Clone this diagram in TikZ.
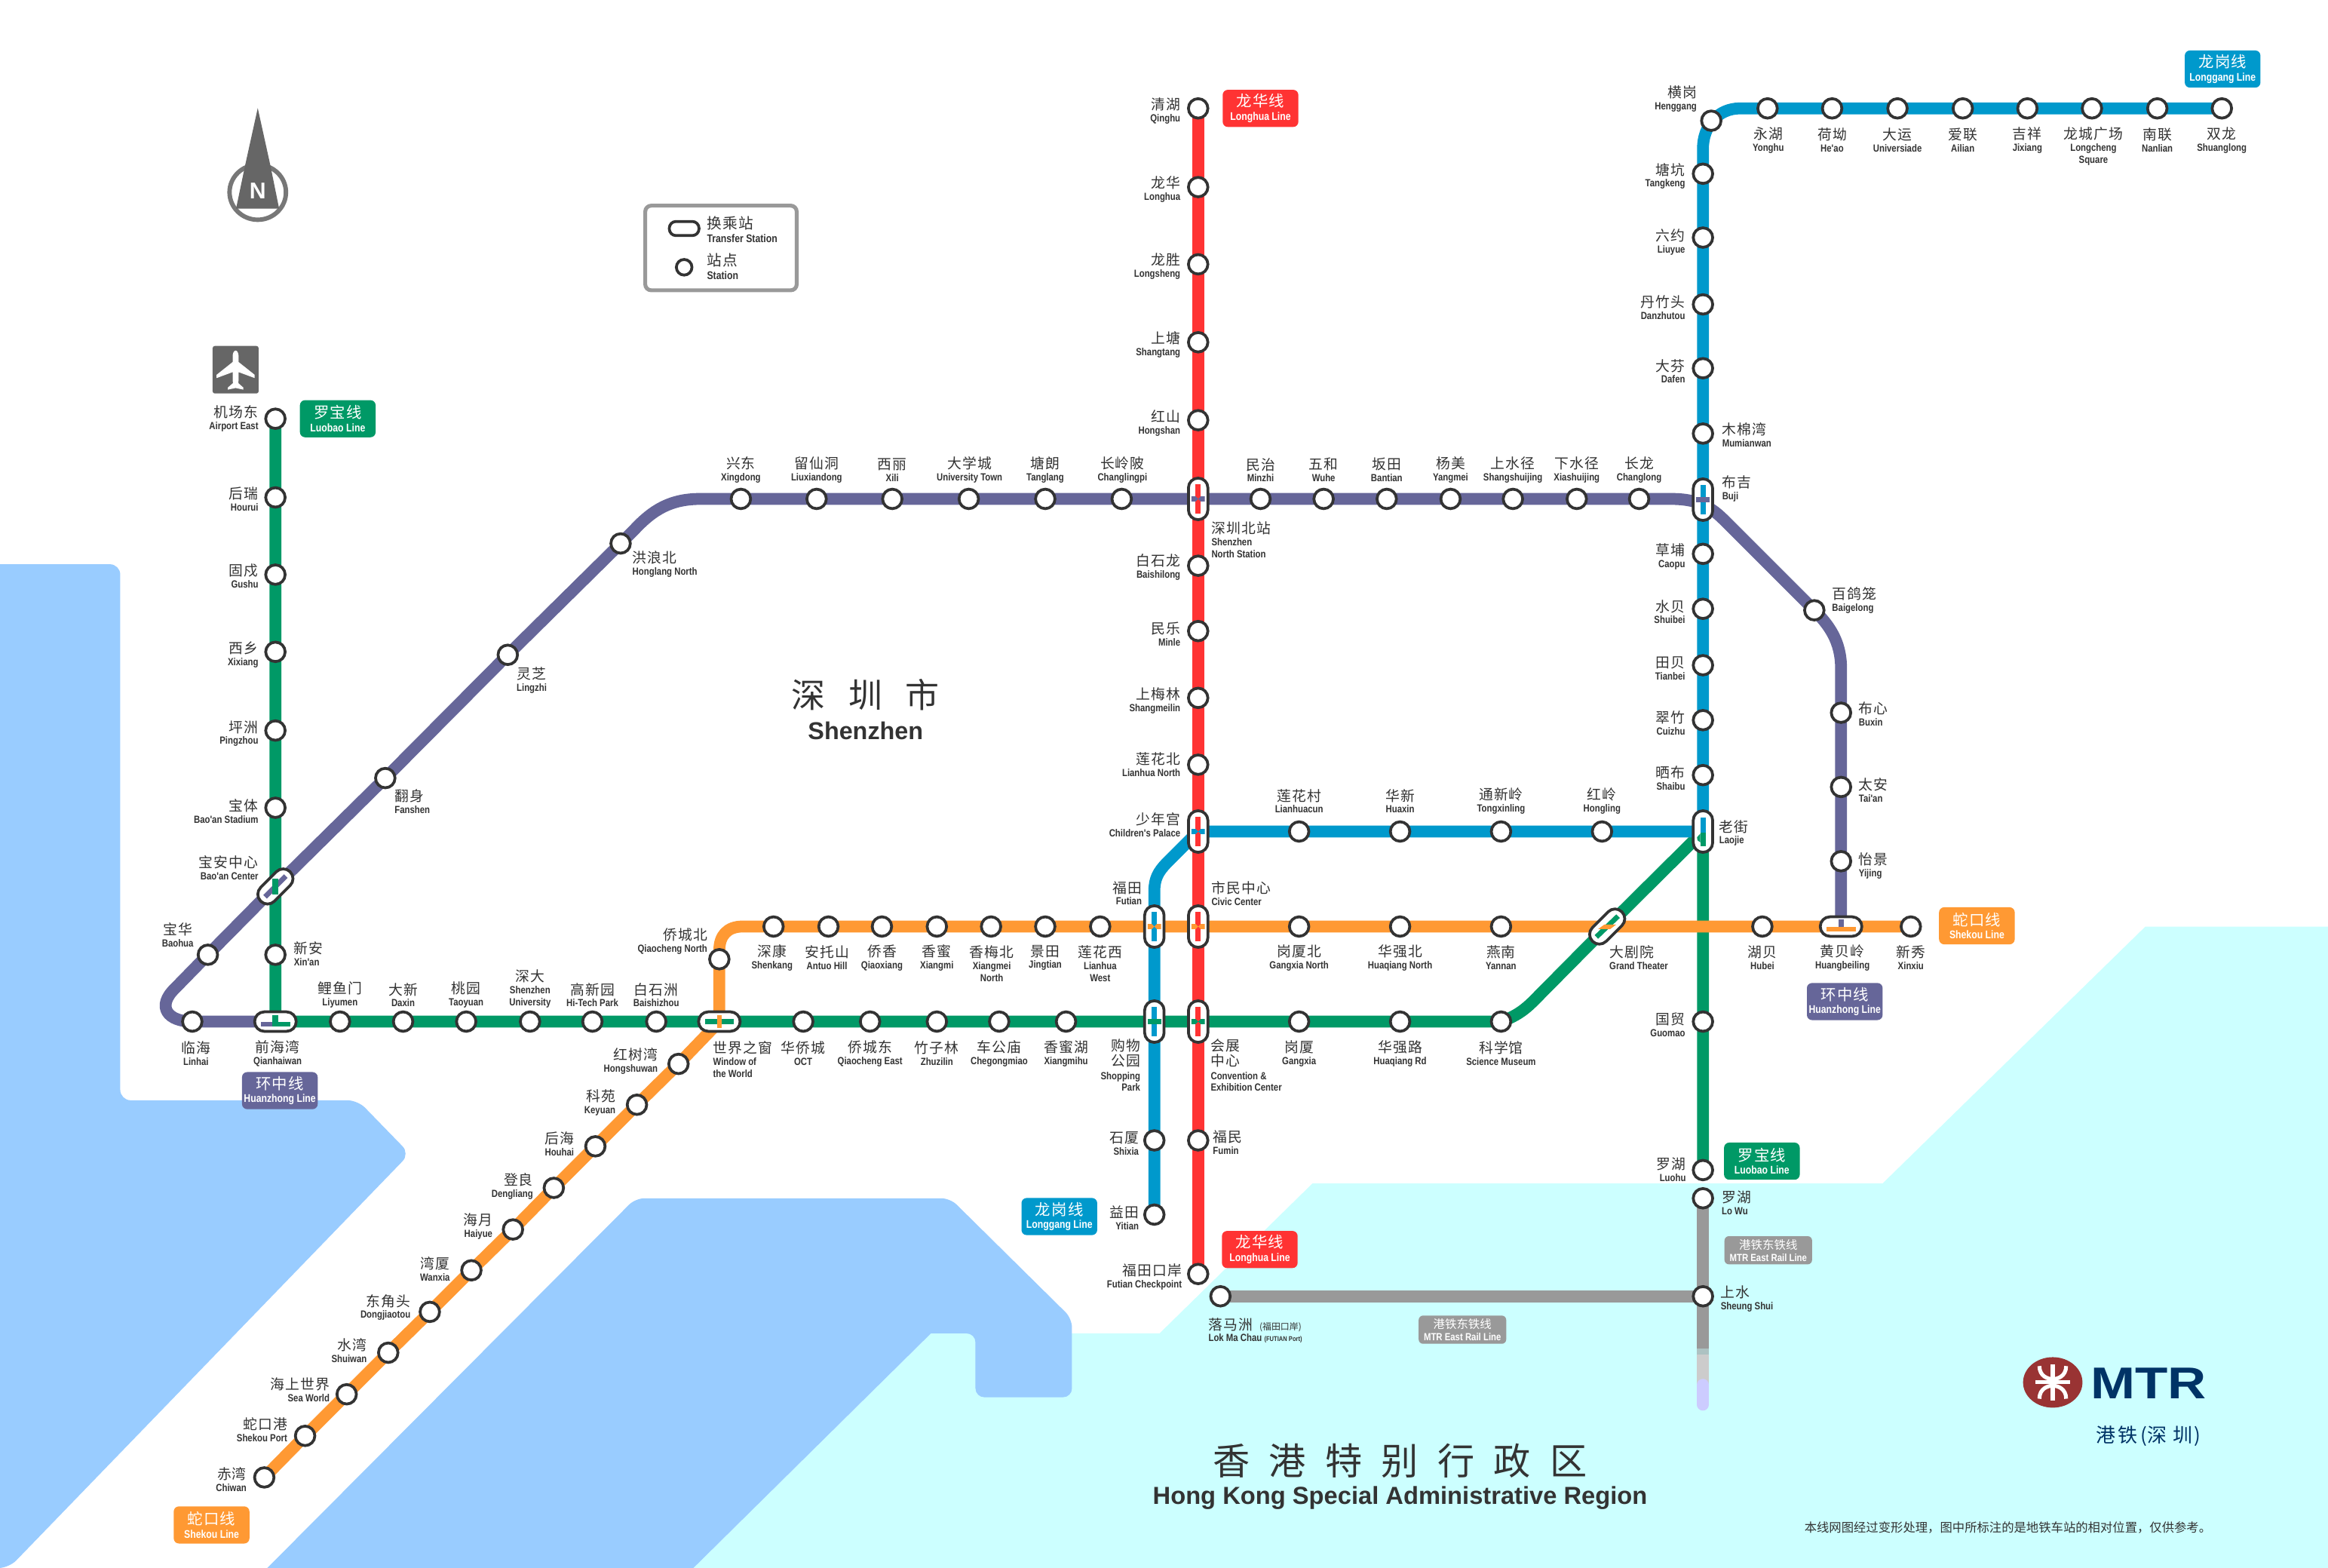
\documentclass[tikz,border=0pt]{standalone}
\usepackage{fontspec}
\usetikzlibrary{calc,shapes.geometric}
\newfontfamily\cnfam[LetterSpace=6]{Noto Sans CJK SC}
\newfontfamily\cnplain{Noto Sans CJK SC}
\newfontfamily\enfam[FakeStretch=0.83]{Liberation Sans}
\newfontfamily\arfam{Liberation Sans}
\newfontfamily\mtrfam[FakeStretch=1.2]{Liberation Sans}
\definecolor{ink}{HTML}{333333}
\definecolor{lgreen}{HTML}{009966}
\definecolor{lred}{HTML}{FF3333}
\definecolor{lblue}{HTML}{0099CC}
\definecolor{lpurple}{HTML}{666699}
\definecolor{lorange}{HTML}{FF9933}
\definecolor{lgray}{HTML}{999999}
\definecolor{water}{HTML}{99CCFF}
\definecolor{hkland}{HTML}{CCFFFF}
\definecolor{mtrred}{HTML}{993333}
\definecolor{mtrblue}{HTML}{003366}
\definecolor{tailc}{HTML}{CCCCFF}
\definecolor{iconc}{HTML}{666666}
\definecolor{ringc}{HTML}{777777}
\newdimen\uu \uu=0.0196875cm
\pgfdeclarelayer{land}\pgfdeclarelayer{lines}\pgfdeclarelayer{top}
\pgfsetlayers{land,lines,main,top}
\newcommand\cnf{\cnfam\mdseries\fontsize{5.35}{5.4}\selectfont}
\newcommand\enf{\enfam\bfseries\fontsize{3.9}{4.5}\selectfont\lineskiplimit=-6pt\lineskip=0pt}
\newcommand\tagf{\enfam\bfseries\fontsize{4.2}{5}\selectfont\lineskiplimit=-6pt\lineskip=0pt}
\newcommand\stagf{\enfam\bfseries\fontsize{3.9}{4.6}\selectfont\lineskiplimit=-6pt\lineskip=0pt}
\newcounter{lc}
\tikzset{
  ln/.style={line width=8\uu,line join=round},
  stn/.style={circle,draw=ink,fill=white,line width=1.9\uu,minimum size=13.1\uu,inner sep=0pt},
  xfer/.style={rectangle,rounded corners=6.5\uu,draw=ink,fill=white,line width=1.9\uu,minimum width=13.1\uu,minimum height=28\uu,inner sep=0pt},
  lab/.style={inner sep=0pt,outer sep=0pt,text=ink,font=\enf},
  tagbox/.style={rectangle,rounded corners=3.5\uu,fill=#1,text=white,minimum width=51\uu,minimum height=25\uu,inner sep=0pt,align=center,font=\tagf},
  smalltag/.style={rectangle,rounded corners=3\uu,fill=lgray,text=white,minimum width=59\uu,minimum height=19\uu,inner sep=0pt,align=center,font=\stagf},
}
\newcommand\st[3]{\node[stn] (#1) at (#2,#3) {};}
\newcommand\labE[4]{\stepcounter{lc}\node[lab,anchor=east,align=right] (L\thelc) at (#1,#2) {{\cnf #3}\\#4};}
\newcommand\labW[4]{\stepcounter{lc}\node[lab,anchor=west,align=left] (L\thelc) at (#1,#2) {{\cnf #3}\\#4};}
\newcommand\labC[4]{\stepcounter{lc}\node[lab,anchor=center,align=center] (L\thelc) at (#1,#2) {{\cnf #3}\\#4};}
\newcommand\tagn[5]{\stepcounter{lc}\node[tagbox=#1] (T\thelc) at (#2,#3) {{\cnfam\mdseries\fontsize{5.8}{6}\selectfont #4}\\#5};}
\newcommand\stag[4]{\stepcounter{lc}\node[smalltag] (T\thelc) at (#1,#2) {{\cnplain\mdseries\fontsize{4.4}{5}\selectfont #3}\\#4};}
\newcommand\capv[2]{\fill[#2] ($(#1.center)+(-1.7,-9.8)$) rectangle ($(#1.center)+(1.7,9.8)$);}
\newcommand\caph[2]{\fill[#2] ($(#1.center)+(-9.8,-1.7)$) rectangle ($(#1.center)+(9.8,1.7)$);}
\newcommand\captie[2]{\begin{scope}[shift={(#1.center)}]
  \fill[#2] (-4.5,-1.7)--(-1.7,-1.7)--(0,0)--(-1.7,1.7)--(-4.5,1.7)--cycle;
  \fill[#2] (4.5,-1.7)--(1.7,-1.7)--(0,0)--(1.7,1.7)--(4.5,1.7)--cycle;\end{scope}}
\newcommand\caphs[2]{\fill[#2] ($(#1.center)+(-4.5,-1.7)$) rectangle ($(#1.center)+(4.5,1.7)$);}
\newcommand\capvs[2]{\fill[#2] ($(#1.center)+(-1.7,-4.5)$) rectangle ($(#1.center)+(1.7,4.5)$);}
\begin{document}
\begin{tikzpicture}[x=0.0196875cm,y=-0.0196875cm]
\useasboundingbox (0,0) rectangle (1568,1056);
% ---------- land and water
\begin{pgfonlayer}{land}
\fill[white] (0,0) rectangle (1568,1056);
\fill[hkland] (467,1056)--(627,898)--(781,898)--(884,797)--(1268,797)--(1445,624)--(1568,624)--(1568,1056)--cycle;
\fill[water] (0,380) [rounded corners=7\uu] -- (81,380) -- (81,741) -- (241,741) -- (276,777) -- (6,1056) [sharp corners] -- (0,1056) -- cycle;
\fill[water] (180,1056) [rounded corners=6\uu] -- (428,807) -- (640,807) -- (722,888) -- (722,941) -- (657,941) -- (657,898) [sharp corners] -- (627,898) -- (467,1056) -- cycle;
\end{pgfonlayer}
% ---------- stations: Luobao
\st{airport}{185.5}{282}\st{hourui}{185.5}{335}\st{gushu}{185.5}{387}\st{xixiang}{185.5}{439}\st{pingzhou}{185.5}{492}\st{baoanst}{185.5}{544}
\node[xfer,rotate=-45] (baoanc) at (185.5,597) {};
\st{xinan}{185.5}{643}
\node[xfer,rotate=90] (qianhai) at (185.5,688) {};
\st{liyumen}{229}{688}\st{daxin}{271.5}{688}\st{taoyuan}{314}{688}\st{szu}{357}{688}\st{hitech}{399}{688}\st{baishizhou}{442}{688}
\node[xfer,rotate=90] (window) at (484.5,688) {};
\st{oct}{541}{688}\st{qcdong}{586}{688}\st{zhuzilin}{631}{688}\st{chegong}{673}{688}\st{xiangmihu}{718}{688}
\node[xfer] (shopping) at (777.5,688) {};
\node[xfer] (convention) at (807,688) {};
\st{gangxia}{875}{688}\st{hqrd}{943}{688}\st{science}{1011}{688}
\node[xfer,rotate=-45] (theater) at (1082.5,624) {};
\node[xfer] (laojie) at (1147,560) {};
\st{guomao}{1147}{688}\st{luohu}{1147}{788}
% Huanzhong
\st{linhai}{129.5}{688}\st{baohua}{140}{643}\st{fanshen}{259.5}{524}\st{lingzhi}{342}{441}\st{hlnorth}{418}{366}
\st{xingdong}{499}{336}\st{liuxian}{550}{336}\st{xili}{601}{336}\st{utown}{652.5}{336}\st{tanglang}{704}{336}\st{changling}{755.5}{336}
\node[xfer] (sznorth) at (807,336) {};
\st{minzhi}{849}{336}\st{wuhe}{891.5}{336}\st{bantian}{934}{336}\st{yangmei}{977}{336}\st{shangshui}{1019}{336}\st{xiashui}{1062}{336}\st{changlong}{1104}{336}
\node[xfer] (buji) at (1147,336.5) {};
\st{baige}{1222}{411}\st{buxin}{1240}{480}\st{taian}{1240}{530}\st{yijing}{1240}{580}
\node[xfer,rotate=90] (huangbei) at (1240,624) {};
% Shekou
\st{chiwan}{178}{995}\st{skport}{205.5}{967}\st{seaworld}{233.5}{939}\st{shuiwan}{261.5}{911}\st{dongjiao}{289.5}{883.5}\st{wanxia}{317.5}{855.5}\st{haiyue}{345.5}{828}\st{dengliang}{373}{800}\st{houhai}{401}{772}\st{keyuan}{429}{744}\st{hongshu}{457}{716.5}
\st{qcnorth}{484.5}{646}\st{shenkang}{521}{624}\st{antuo}{558}{624}\st{qiaoxiang}{594}{624}\st{xiangmi}{631}{624}\st{xiangmei}{667.5}{624}\st{jingtian}{704}{624}\st{lhwest}{741}{624}
\node[xfer] (futian) at (777.5,624) {};
\node[xfer] (civic) at (807,624) {};
\st{gxnorth}{875}{624}\st{hqnorth}{943}{624}\st{yannan}{1011}{624}\st{hubei}{1187}{624}\st{xinxiu}{1287}{624}
% Longgang
\st{yitian}{777.5}{818}\st{shixia}{777.5}{768}
\node[xfer] (children) at (807,560) {};
\st{lianhuacun}{875}{560}\st{huaxin}{943}{560}\st{tongxin}{1011}{560}\st{hongling}{1079}{560}
\st{shaibu}{1147}{522}\st{cuizhu}{1147}{485}\st{tianbei}{1147}{448}\st{shuibei}{1147}{410}\st{caopu}{1147}{373}\st{mumian}{1147}{292}\st{dafen}{1147}{248}\st{danzhu}{1147}{205}\st{liuyue}{1147}{160}\st{tangkeng}{1147}{117}\st{henggang}{1152.6}{81.3}
\st{yonghu}{1190.5}{73}\st{heao}{1234}{73}\st{dayun}{1278}{73}\st{ailian}{1322}{73}\st{jixiang}{1365.5}{73}\st{longcheng}{1409}{73}\st{nanlian}{1453}{73}\st{shuanglong}{1496.5}{73}
% Longhua
\st{qinghu}{807}{73}\st{longhua}{807}{126}\st{longsheng}{807}{178}\st{shangtang}{807}{230.5}\st{hongshan}{807}{283}
\st{baishilong}{807}{381}\st{minle}{807}{425}\st{shangmei}{807}{470}\st{lhnorth}{807}{515}\st{fumin}{807}{768}\st{ftcheck}{807}{858}
% East Rail
\st{lowu}{1147}{807}\st{sheung}{1147}{873}\st{lokma}{822}{873}
% ---------- lines
\begin{pgfonlayer}{lines}
\draw[ln,lgreen] (airport.center)--(hourui.center)--(gushu.center)--(xixiang.center)--(pingzhou.center)--(baoanst.center)--(baoanc.center)--(xinan.center)--(qianhai.center)--(liyumen.center)--(daxin.center)--(taoyuan.center)--(szu.center)--(hitech.center)--(baishizhou.center)--(window.center)--(oct.center)--(qcdong.center)--(zhuzilin.center)--(chegong.center)--(xiangmihu.center)--(shopping.center)--(convention.center)--(gangxia.center)--(hqrd.center)--(science.center) .. controls (1021,684.5) and (1027,680) .. (1033,674) -- (theater.center)--(laojie.center)--(guomao.center)--(luohu.center);
\draw[ln,lpurple] (qianhai.center)--(linhai.center) .. controls (113,688) and (105,678) .. (118,665.5) -- (baohua.center)--(baoanc.center)--(fanshen.center)--(lingzhi.center)--(hlnorth.center)--(427,357) .. controls (440,343) and (452,336) .. (472,336) -- (xingdong.center)--(liuxian.center)--(xili.center)--(utown.center)--(tanglang.center)--(changling.center)--(sznorth.center)--(minzhi.center)--(wuhe.center)--(bantian.center)--(yangmei.center)--(shangshui.center)--(xiashui.center)--(changlong.center)--(1125,336) .. controls (1140,336) and (1150,339) .. (1161,350) -- (baige.center) .. controls (1232,421) and (1240,432) .. (1240,450) -- (buxin.center)--(taian.center)--(yijing.center)--(huangbei.center);
\draw[ln,lblue] (yitian.center)--(shixia.center)--(shopping.center)--(futian.center)--(777.5,600) .. controls (777.5,592) and (780,587) .. (786,581) -- (children.center)--(lianhuacun.center)--(huaxin.center)--(tongxin.center)--(hongling.center)--(laojie.center)--(shaibu.center)--(cuizhu.center)--(tianbei.center)--(shuibei.center)--(caopu.center)--(buji.center)--(mumian.center)--(dafen.center)--(danzhu.center)--(liuyue.center)--(tangkeng.center)--(1147,100) .. controls (1147,85) and (1157,73) .. (1172,73) -- (yonghu.center)--(heao.center)--(dayun.center)--(ailian.center)--(jixiang.center)--(longcheng.center)--(nanlian.center)--(shuanglong.center);
\draw[ln,lorange] (chiwan.center)--(skport.center)--(seaworld.center)--(shuiwan.center)--(dongjiao.center)--(wanxia.center)--(haiyue.center)--(dengliang.center)--(houhai.center)--(keyuan.center)--(hongshu.center)--(window.center)--(qcnorth.center)--(484.5,640) .. controls (484.5,630) and (490,624) .. (500,624) -- (shenkang.center)--(antuo.center)--(qiaoxiang.center)--(xiangmi.center)--(xiangmei.center)--(jingtian.center)--(lhwest.center)--(futian.center)--(civic.center)--(gxnorth.center)--(hqnorth.center)--(yannan.center)--(theater.center)--(hubei.center)--(huangbei.center)--(xinxiu.center);
\coordinate (tailA) at (1147,908);
\coordinate (tailB) at (1147,912);
\coordinate (tailC) at (1147,932.6);
\coordinate (tailD) at (1147,946);
\draw[ln,lgray] (lokma.center)--(sheung.center);
\draw[ln,lgray] (lowu.center)--(sheung.center)--(tailA);
\draw[ln,color=hkland!40!lgray] (tailA)--(tailB);
\draw[ln,color=lgray!50!white] (tailB)--(tailC);
\draw[ln,color=tailc,line cap=round] (tailC)--(tailD);
\draw[ln,lred] (qinghu.center)--(longhua.center)--(longsheng.center)--(shangtang.center)--(hongshan.center)--(sznorth.center)--(baishilong.center)--(minle.center)--(shangmei.center)--(lhnorth.center)--(children.center)--(civic.center)--(convention.center)--(fumin.center)--(ftcheck.center);
\end{pgfonlayer}
% ---------- capsule marks
\begin{pgfonlayer}{top}
\capv{sznorth}{lred}\captie{sznorth}{lpurple}
\capv{children}{lred}\captie{children}{lblue}
\capv{civic}{lred}\captie{civic}{lorange}
\capv{convention}{lred}\captie{convention}{lgreen}
\capv{futian}{lblue}\captie{futian}{lorange}
\capv{shopping}{lblue}\caphs{shopping}{lgreen}
\capv{buji}{lblue}\caphs{buji}{lpurple}
\caph{window}{lgreen}\capvs{window}{lorange}
\begin{scope}[shift={(laojie.center)}]
\fill[lblue] (-1.8,-9.6) rectangle (1.8,0.8);
\fill[lgreen] (-1.8,0.8) rectangle (1.8,10);
\fill[lgreen] (-4,3.9)--(-1.8,1.4)--(-1.8,7.3)--(-3.7,5.9)--cycle;
\end{scope}
\begin{scope}[shift={(qianhai.center)}]
\fill[lpurple] (-9.8,0) rectangle (0,3.4);
\fill[lgreen] (-1.9,-4.2) rectangle (1.9,3.4);
\fill[lgreen] (0,0) rectangle (9.8,3.4);
\end{scope}
\begin{scope}[shift={(huangbei.center)}]
\fill[lorange] (-9.9,0) rectangle (9.9,3.4);
\fill[lpurple] (-1.85,-4.7) rectangle (1.85,0);
\end{scope}
\begin{scope}[shift={(baoanc.center)}]
\draw[lpurple,line width=3.4\uu] (-7,7)--(7,-7);
\fill[lgreen] (-1.9,-5.2) rectangle (1.9,5.2);
\end{scope}
\begin{scope}[shift={(theater.center)}]
\draw[lgreen,line width=3.4\uu] (-7.3,7)--(7.3,-7);
\fill[lorange] (-6.1,1.7)--(-1.9,-1.35)--(6.1,-1.35)--(2,1.7)--cycle;
\end{scope}
\end{pgfonlayer}
% ---------- labels: Luobao
\labE{174}{282}{机场东}{Airport East}
\labE{174}{336}{后瑞}{Hourui}
\labE{174}{388}{固戍}{Gushu}
\labE{174}{441}{西乡}{Xixiang}
\labE{174}{494}{坪洲}{Pingzhou}
\labE{174}{546.5}{宝体}{Bao'an Stadium}
\labE{174}{584.5}{宝安中心}{Bao'an Center}
\labC{119.7}{629.6}{宝华}{Baohua}
\labW{198}{642.5}{新安}{Xin'an}
\labC{229}{670}{鲤鱼门}{Liyumen}
\labC{271.5}{670}{大新}{Daxin}
\labC{314}{670}{桃园}{Taoyuan}
\labC{357}{666}{深大}{Shenzhen\\University}
\labC{399}{670}{高新园}{Hi-Tech Park}
\labC{442}{670}{白石洲}{Baishizhou}
\labC{132}{709.5}{临海}{Linhai}
\labC{187}{709.5}{前海湾}{Qianhaiwan}
\labW{480.3}{713.5}{世界之窗}{Window of\\the World}
\labC{541}{709.5}{华侨城}{OCT}
\labC{586}{709.5}{侨城东}{Qiaocheng East}
\labC{631}{709.5}{竹子林}{Zhuzilin}
\labC{673}{709.5}{车公庙}{Chegongmiao}
\labC{718}{709.5}{香蜜湖}{Xiangmihu}
\labE{768}{717.5}{购物}{[1.2pt]{\cnf 公园}\\[0.4pt]Shopping\\Park}
\labW{815.5}{717.5}{会展}{[1.2pt]{\cnf 中心}\\[0.4pt]Convention \&\\Exhibition Center}
\labC{875}{709.5}{岗厦}{Gangxia}
\labC{943}{709.5}{华强路}{Huaqiang Rd}
\labC{1011}{709.5}{科学馆}{Science Museum}
% Shekou labels
\labE{443}{714.5}{红树湾}{Hongshuwan}
\labE{414.5}{742.4}{科苑}{Keyuan}
\labE{386.6}{770.5}{后海}{Houhai}
\labE{359}{799}{登良}{Dengliang}
\labE{331.7}{826}{海月}{Haiyue}
\labE{303}{854.5}{湾厦}{Wanxia}
\labE{276.5}{880.5}{东角头}{Dongjiaotou}
\labE{247}{909.5}{水湾}{Shuiwan}
\labE{222}{936}{海上世界}{Sea World}
\labE{193.5}{963}{蛇口港}{Shekou Port}
\labE{166}{996.5}{赤湾}{Chiwan}
\labE{476.4}{634}{侨城北}{Qiaocheng North}
\labC{520}{645}{深康}{Shenkang}
\labC{557}{645}{安托山}{Antuo Hill}
\labC{594}{645}{侨香}{Qiaoxiang}
\labC{631}{645}{香蜜}{Xiangmi}
\labC{668}{649}{香梅北}{Xiangmei\\North}
\labC{704}{645}{景田}{Jingtian}
\labC{741}{649}{莲花西}{Lianhua\\West}
\labE{769}{601.5}{福田}{Futian}
\labW{816}{601.5}{市民中心}{Civic Center}
\labC{875}{645}{岗厦北}{Gangxia North}
\labC{943}{645}{华强北}{Huaqiang North}
\labC{1011}{645}{燕南}{Yannan}
\labW{1084}{645}{大剧院}{Grand Theater}
\labC{1187}{645}{湖贝}{Hubei}
\labC{1241}{645}{黄贝岭}{Huangbeiling}
\labC{1287}{645}{新秀}{Xinxiu}
% Longgang labels
\labC{875}{539.5}{莲花村}{Lianhuacun}
\labC{943}{539.5}{华新}{Huaxin}
\labC{1011}{539.5}{通新岭}{Tongxinling}
\labC{1079}{539.5}{红岭}{Hongling}
\labE{795}{555.5}{少年宫}{Children's Palace}
\labW{1158}{561}{老街}{Laojie}
\labE{1135}{524}{晒布}{Shaibu}
\labE{1135}{487}{翠竹}{Cuizhu}
\labE{1135}{450}{田贝}{Tianbei}
\labE{1135}{412}{水贝}{Shuibei}
\labE{1135}{375}{草埔}{Caopu}
\labW{1160}{329}{布吉}{Buji}
\labW{1160}{293}{木棉湾}{Mumianwan}
\labE{1135}{250}{大芬}{Dafen}
\labE{1135}{207}{丹竹头}{Danzhutou}
\labE{1135}{163}{六约}{Liuyue}
\labE{1135}{118.6}{塘坑}{Tangkeng}
\labE{1142.8}{66.5}{横岗}{Henggang}
\labC{1191}{94.5}{永湖}{Yonghu}
\labC{1234}{94.5}{荷坳}{He'ao}
\labC{1278}{94.5}{大运}{Universiade}
\labC{1322}{94.5}{爱联}{Ailian}
\labC{1365.5}{94.5}{吉祥}{Jixiang}
\labC{1410}{98.5}{龙城广场}{Longcheng\\Square}
\labC{1453}{94.5}{南联}{Nanlian}
\labC{1496.5}{94.5}{双龙}{Shuanglong}
% Longhua labels
\labE{795}{74.5}{清湖}{Qinghu}
\labE{795}{127.5}{龙华}{Longhua}
\labE{795}{179.5}{龙胜}{Longsheng}
\labE{795}{232}{上塘}{Shangtang}
\labE{795}{285}{红山}{Hongshan}
\labC{849}{316.5}{民治}{Minzhi}
\labC{891.5}{316.5}{五和}{Wuhe}
\labC{934}{316.5}{坂田}{Bantian}
\labC{977}{316.5}{杨美}{Yangmei}
\labC{1019}{316.5}{上水径}{Shangshuijing}
\labC{1062}{316.5}{下水径}{Xiashuijing}
\labC{1104}{316.5}{长龙}{Changlong}
\labC{499}{316.5}{兴东}{Xingdong}
\labC{550}{316.5}{留仙洞}{Liuxiandong}
\labC{601}{316.5}{西丽}{Xili}
\labC{653}{316.5}{大学城}{University Town}
\labC{704}{316.5}{塘朗}{Tanglang}
\labC{756}{316.5}{长岭陂}{Changlingpi}
\labW{816}{363.5}{深圳北站}{Shenzhen\\North Station}
\labE{795}{382}{白石龙}{Baishilong}
\labE{795}{427}{民乐}{Minle}
\labE{795}{472}{上梅林}{Shangmeilin}
\labE{795}{515}{莲花北}{Lianhua North}
\labW{817}{769.5}{福民}{Fumin}
\labE{767}{770}{石厦}{Shixia}
\labE{767}{820}{益田}{Yitian}
\labE{796}{860}{福田口岸}{Futian Checkpoint}
\labE{1135.5}{787.5}{罗湖}{Luohu}
\labW{1159.7}{810}{罗湖}{Lo Wu}
\labW{1159}{874.5}{上水}{Sheung Shui}
\labE{1135}{690}{国贸}{Guomao}
\stepcounter{lc}\node[lab,anchor=west,align=left] (L\thelc) at (814,896) {{\cnf 落马洲\hspace{2.5pt}}{\cnplain\mdseries\fontsize{3.4}{4}\selectfont (福田口岸)}\\Lok Ma Chau {\enfam\bfseries\fontsize{2.6}{3}\selectfont (FUTIAN Port)}};
% Huanzhong labels
\labW{1234}{404.5}{百鸽笼}{Baigelong}
\labW{1252}{481}{布心}{Buxin}
\labW{1252}{532}{太安}{Tai'an}
\labW{1252}{583}{怡景}{Yijing}
\labW{426}{380}{洪浪北}{Honglang North}
\labW{348}{458}{灵芝}{Lingzhi}
\labW{265.8}{539.6}{翻身}{Fanshen}
% ---------- line tags
\tagn{lpurple}{188.5}{734.5}{环中线}{Huanzhong Line}
\tagn{lorange}{142.5}{1027}{蛇口线}{Shekou Line}
\tagn{lgreen}{227.5}{282}{罗宝线}{Luobao Line}
\tagn{lred}{849}{73}{龙华线}{Longhua Line}
\tagn{lred}{848.5}{841.5}{龙华线}{Longhua Line}
\tagn{lblue}{713.5}{819.3}{龙岗线}{Longgang Line}
\tagn{lblue}{1497}{46.5}{龙岗线}{Longgang Line}
\tagn{lgreen}{1186.7}{782}{罗宝线}{Luobao Line}
\tagn{lpurple}{1242.5}{674.5}{环中线}{Huanzhong Line}
\tagn{lorange}{1331.5}{623.5}{蛇口线}{Shekou Line}
\stag{1191}{842}{港铁东铁线}{MTR East Rail Line}
\stag{985}{895.5}{港铁东铁线}{MTR East Rail Line}
% ---------- big texts
\node[inner sep=0pt,text=ink,font=\cnplain\fontsize{12.8}{13}\selectfont] (szcn) at (583,468) {深\hspace{8.7pt}圳\hspace{8.7pt}市};
\node[inner sep=0pt,text=ink,font=\arfam\bfseries\fontsize{9.2}{10}\selectfont] (szen) at (583,492) {Shenzhen};
\node[inner sep=0pt,text=ink,font=\cnplain\fontsize{14}{15}\selectfont] (hkcn) at (943,984) {香\hspace{7.2pt}港\hspace{7.2pt}特\hspace{7.2pt}别\hspace{7.2pt}行\hspace{7.2pt}政\hspace{7.2pt}区};
\node[inner sep=0pt,text=ink,font=\arfam\bfseries\fontsize{9.3}{10}\selectfont] (hken) at (943,1009) {Hong Kong Special Administrative Region};
\node[inner sep=0pt,anchor=west,text=ink,font=\cnplain\fontsize{4.65}{5}\selectfont] (note) at (1215,1029) {本线网图经过变形处理，图中所标注的是地铁车站的相对位置，仅供参考。};
% ---------- MTR logo
\node[ellipse,fill=mtrred,minimum width=40\uu,minimum height=34\uu,inner sep=0pt] (logo) at (1382.6,931) {};
\begin{scope}[shift={(logo.center)},white,line width=2.6\uu]
\draw (-9,-11) .. controls (-9,-4) and (-3,-2.2) .. (0,-2.2) .. controls (3,-2.2) and (9,-4) .. (9,-11);
\draw (-9,11) .. controls (-9,4) and (-3,2.2) .. (0,2.2) .. controls (3,2.2) and (9,4) .. (9,11);
\draw (0,-12)--(0,12);
\draw (-11.5,0)--(11.5,0);
\end{scope}
\node[inner sep=0pt,text=mtrblue,font=\mtrfam\bfseries\fontsize{16.8}{17}\selectfont] (mtrword) at (1447,931.5) {MTR};
\node[inner sep=0pt,text=mtrblue,font=\cnplain\fontsize{7.4}{8}\selectfont] (mtrcn) at (1447,967) {港\hspace{1pt}铁\hspace{1pt}(深\hspace{2.5pt}圳\hspace{0.5pt})};
% ---------- compass
\node[ellipse,draw=ringc,fill=white,line width=3\uu,minimum width=38\uu,minimum height=37\uu,inner sep=0pt] (compass) at (173.6,129.5) {};
\fill[iconc] (173.6,72.8)--(182,110.9)--(188,140.5)--(159,140.5)--(165.2,110.9)--cycle;
\node[inner sep=0pt,text=white,font=\arfam\bfseries\fontsize{8.6}{9}\selectfont] (north) at (173.6,128.6) {N};
% ---------- legend
\node[rectangle,rounded corners=4\uu,draw=lgray,fill=white,line width=2.6\uu,minimum width=102\uu,minimum height=57\uu,inner sep=0pt] (legend) at (485.6,167) {};
\node[rectangle,rounded corners=4.5\uu,draw=ink,fill=white,line width=1.9\uu,minimum width=20\uu,minimum height=9.5\uu,inner sep=0pt] (legx) at (460.8,153.9) {};
\node[circle,draw=ink,fill=white,line width=1.9\uu,minimum size=10.5\uu,inner sep=0pt] (legs) at (460.8,180) {};
\node[lab,font=\tagf,anchor=west,align=left] (legA) at (476.2,154.5) {{\cnfam\mdseries\fontsize{5.6}{6}\selectfont 换乘站}\\Transfer Station};
\node[lab,font=\tagf,anchor=west,align=left] (legB) at (476.2,179.5) {{\cnfam\mdseries\fontsize{5.6}{6}\selectfont 站点}\\Station};
% ---------- airport icon
\node[rectangle,rounded corners=1.5\uu,fill=iconc,minimum width=31\uu,minimum height=32\uu,inner sep=0pt] (plane) at (158.7,249) {};
\fill[white,shift={(plane.center)}] (0,-12.9)..controls (1.2,-12.9) and (2,-11) .. (2,-9) -- (2,-5.2) -- (12.8,3.4) -- (12.8,5.6) -- (2,1.6) -- (2,6.6) -- (1.8,9) -- (5.2,12) -- (5.2,13.4) -- (0,12.3) -- (-5.2,13.4) -- (-5.2,12) -- (-1.8,9) -- (-2,6.6) -- (-2,1.6) -- (-12.8,5.6) -- (-12.8,3.4) -- (-2,-5.2) -- (-2,-9) .. controls (-2,-11) and (-1.2,-12.9) .. (0,-12.9) -- cycle;
\end{tikzpicture}
\end{document}
